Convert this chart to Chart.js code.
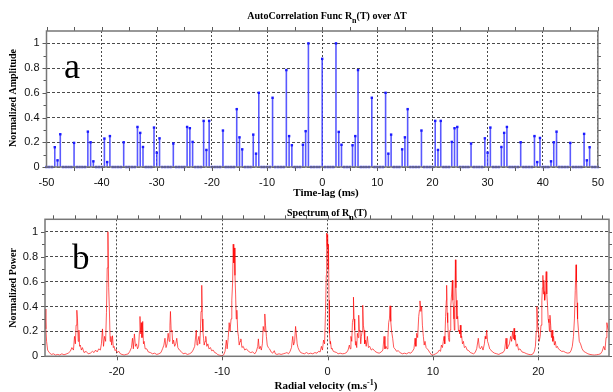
<!DOCTYPE html>
<html><head><meta charset="utf-8">
<script src="https://cdn.jsdelivr.net/npm/chart.js@4.4.0/dist/chart.umd.min.js"></script>
<style>
html,body{margin:0;padding:0;background:#fff;}
#wrap{position:relative;width:613px;height:392px;overflow:hidden;}
canvas{position:absolute;left:0;}
#ca{top:0;z-index:1;} #cb{top:196px;z-index:2;}
</style></head><body>
<div id="wrap"><canvas id="ca" width="613" height="205"></canvas><canvas id="cb" width="613" height="196"></canvas></div>
<script>
// ---------- Panel a: autocorrelation stems ----------
const lagMin = -50, lagMax = 50, lagStep = 0.5;
const stemLags = [-48.5,-48,-47.5,-45,-42.5,-42,-41.5,-39.5,-39,-38.5,-36,-33.5,-33,-32.5,-30.5,-30,-29.5,-27,
  -24.5,-24,-23.5,-21.5,-21,-20.5,-18,-15.5,-15,-14.5,-12.5,-12,-11.5,-9,-6.5,-6,-5.5,-3.5,-3,-2.5,0,
  2.5,3,3.5,5.5,6,6.5,9,11.5,12,12.5,14.5,15,15.5,18,20.5,21,21.5,23.5,24,24.5,27,29.5,30,30.5,32.5,33,33.5,
  36,38.5,39,39.5,41.5,42,42.5,45,47.5,48,48.5];
const stemAmps = [0.16,0.054,0.265,0.195,0.286,0.2,0.046,0.23,0.04,0.25,0.2,0.324,0.276,0.162,0.319,0.116,0.232,0.19,
  0.324,0.314,0.203,0.373,0.138,0.373,0.295,0.468,0.24,0.143,0.262,0.108,0.60,0.56,0.784,0.25,0.176,0.18,0.29,1.0,0.875,
  1.0,0.284,0.18,0.176,0.25,0.784,0.56,0.60,0.108,0.262,0.143,0.24,0.468,0.295,0.373,0.138,0.373,0.203,0.314,0.324,0.19,0.232,0.116,0.319,0.162,0.276,0.324,
  0.2,0.25,0.04,0.235,0.046,0.2,0.286,0.195,0.268,0.054,0.16];
const ampTicks = [0,0.2,0.4,0.6,0.8,1];
const lagTicks = [-50,-40,-30,-20,-10,0,10,20,30,40,50];

// ---------- Panel b: spectrum ----------
const specV = [-26.8,-26.72,-26.65,-26.55,-26.4,-26.2,-26.0,-25.8,-25.6,-25.4,-25.2,-25.0,-24.8,-24.6,-24.4,-24.25,-24.1,-24.0,-23.92,-23.85,-23.78,-23.72,-23.65,-23.58,-23.52,-23.45,-23.35,-23.25,-23.1,-22.9,-22.7,-22.5,-22.3,-22.15,-22.0,-21.85,-21.7,-21.55,-21.45,-21.35,-21.25,-21.15,-21.05,-20.97,-20.9,-20.83,-20.76,-20.7,-20.62,-20.55,-20.48,-20.4,-20.32,-20.25,-20.15,-20.05,-19.95,-19.8,-19.65,-19.5,-19.3,-19.1,-18.9,-18.75,-18.6,-18.5,-18.42,-18.32,-18.22,-18.12,-18.02,-17.92,-17.84,-17.79,-17.72,-17.66,-17.6,-17.53,-17.46,-17.4,-17.3,-17.15,-17.0,-16.8,-16.6,-16.4,-16.2,-16.0,-15.8,-15.65,-15.52,-15.42,-15.32,-15.22,-15.12,-15.02,-14.95,-14.9,-14.83,-14.76,-14.68,-14.6,-14.5,-14.4,-14.3,-14.2,-14.05,-13.9,-13.7,-13.5,-13.3,-13.1,-12.9,-12.75,-12.6,-12.45,-12.38,-12.3,-12.2,-12.12,-12.05,-12.0,-11.93,-11.88,-11.82,-11.76,-11.7,-11.62,-11.55,-11.45,-11.35,-11.25,-11.1,-11.0,-10.85,-10.7,-10.55,-10.4,-10.2,-10.0,-9.85,-9.72,-9.6,-9.52,-9.42,-9.33,-9.25,-9.15,-9.08,-9.0,-8.95,-8.89,-8.84,-8.78,-8.72,-8.66,-8.6,-8.52,-8.45,-8.38,-8.3,-8.22,-8.12,-8.0,-7.85,-7.7,-7.5,-7.3,-7.1,-6.9,-6.75,-6.62,-6.56,-6.48,-6.38,-6.28,-6.18,-6.1,-6.02,-5.95,-5.88,-5.8,-5.72,-5.62,-5.5,-5.35,-5.2,-5.05,-4.95,-4.8,-4.6,-4.4,-4.2,-4.0,-3.85,-3.7,-3.55,-3.42,-3.3,-3.22,-3.12,-3.03,-2.96,-2.88,-2.8,-2.7,-2.55,-2.4,-2.2,-2.0,-1.8,-1.6,-1.4,-1.2,-1.0,-0.85,-0.7,-0.58,-0.48,-0.38,-0.28,-0.19,-0.12,-0.08,-0.03,0.01,0.05,0.09,0.14,0.18,0.24,0.28,0.36,0.42,0.55,0.7,0.87,1.0,1.2,1.4,1.6,1.8,1.95,2.07,2.15,2.22,2.3,2.36,2.42,2.46,2.52,2.58,2.65,2.7,2.77,2.83,2.9,2.96,3.02,3.08,3.15,3.21,3.28,3.34,3.4,3.46,3.53,3.59,3.67,3.78,3.88,4.0,4.15,4.3,4.5,4.7,4.9,5.1,5.25,5.36,5.45,5.55,5.65,5.73,5.8,5.87,5.93,6.0,6.08,6.18,6.28,6.4,6.55,6.7,6.88,7.1,7.3,7.5,7.7,7.9,8.05,8.2,8.3,8.38,8.46,8.55,8.65,8.72,8.77,8.85,8.93,9.0,9.09,9.17,9.25,9.35,9.45,9.56,9.7,9.88,10.05,10.25,10.45,10.6,10.72,10.8,10.9,10.98,11.05,11.12,11.2,11.27,11.3,11.35,11.4,11.47,11.53,11.58,11.62,11.67,11.71,11.77,11.84,11.89,11.94,11.99,12.03,12.08,12.13,12.18,12.22,12.28,12.35,12.42,12.48,12.55,12.6,12.66,12.73,12.8,12.89,12.98,13.1,13.25,13.4,13.55,13.7,13.85,14.0,14.15,14.3,14.4,14.5,14.63,14.75,14.88,14.95,15.02,15.1,15.18,15.26,15.38,15.5,15.65,15.85,16.05,16.25,16.45,16.65,16.8,16.93,17.02,17.15,17.25,17.37,17.46,17.56,17.63,17.69,17.75,17.8,17.9,18.0,18.12,18.25,18.45,18.65,18.9,19.1,19.3,19.5,19.62,19.72,19.8,19.86,19.93,20.0,20.08,20.17,20.25,20.33,20.38,20.43,20.48,20.52,20.56,20.6,20.66,20.7,20.74,20.8,20.87,20.93,21.0,21.05,21.1,21.17,21.24,21.3,21.37,21.44,21.52,21.6,21.7,21.8,21.9,22.05,22.2,22.4,22.6,22.8,23.0,23.12,23.22,23.33,23.42,23.5,23.57,23.62,23.67,23.72,23.8,23.88,24.0,24.15,24.3,24.5,24.7,24.9,25.1,25.3,25.5,25.7,25.9,26.05,26.2,26.32,26.42,26.5,26.6,26.7];
const specP = [0.38,0.22,0.12,0.05,0.03,0.015,0.02,0.01,0.015,0.01,0.02,0.012,0.018,0.025,0.04,0.07,0.05,0.16,0.1,0.25,0.37,0.3,0.12,0.21,0.08,0.09,0.05,0.07,0.03,0.04,0.02,0.025,0.04,0.03,0.05,0.035,0.06,0.05,0.1,0.22,0.08,0.16,0.12,0.35,0.71,1.0,0.55,0.4,0.12,0.16,0.09,0.165,0.07,0.08,0.045,0.055,0.03,0.04,0.02,0.015,0.01,0.015,0.02,0.04,0.07,0.145,0.06,0.18,0.08,0.1,0.06,0.08,0.2,0.32,0.18,0.27,0.15,0.28,0.1,0.12,0.06,0.06,0.035,0.03,0.02,0.025,0.015,0.02,0.03,0.06,0.09,0.145,0.07,0.1,0.185,0.12,0.25,0.36,0.2,0.21,0.1,0.13,0.08,0.1,0.145,0.07,0.05,0.04,0.02,0.025,0.015,0.02,0.03,0.05,0.08,0.21,0.09,0.12,0.16,0.1,0.22,0.36,0.57,0.3,0.2,0.145,0.09,0.12,0.16,0.08,0.1,0.06,0.07,0.045,0.05,0.03,0.025,0.012,0.008,0.005,0.012,0.04,0.13,0.06,0.15,0.27,0.2,0.3,0.45,0.6,0.9,0.75,0.87,0.65,0.5,0.3,0.37,0.2,0.16,0.09,0.12,0.14,0.07,0.08,0.05,0.06,0.04,0.03,0.035,0.02,0.04,0.08,0.14,0.06,0.08,0.05,0.1,0.24,0.2,0.34,0.25,0.16,0.09,0.07,0.06,0.035,0.025,0.045,0.02,0.015,0.02,0.015,0.02,0.025,0.03,0.02,0.04,0.07,0.16,0.09,0.12,0.24,0.18,0.1,0.07,0.05,0.03,0.025,0.02,0.03,0.02,0.025,0.02,0.03,0.025,0.04,0.035,0.08,0.05,0.13,0.1,0.36,0.65,0.99,0.88,0.98,0.7,0.9,0.45,0.185,0.1,0.12,0.06,0.065,0.04,0.035,0.03,0.02,0.025,0.02,0.022,0.03,0.05,0.09,0.06,0.16,0.12,0.27,0.3,0.475,0.3,0.21,0.09,0.12,0.07,0.185,0.15,0.33,0.2,0.21,0.1,0.16,0.2,0.41,0.25,0.21,0.1,0.13,0.08,0.16,0.07,0.08,0.05,0.06,0.04,0.03,0.025,0.035,0.05,0.16,0.06,0.08,0.06,0.15,0.27,0.3,0.405,0.28,0.2,0.145,0.07,0.06,0.04,0.045,0.03,0.02,0.025,0.02,0.03,0.025,0.04,0.06,0.145,0.08,0.185,0.15,0.32,0.37,0.445,0.36,0.4,0.25,0.16,0.09,0.12,0.07,0.06,0.05,0.03,0.01,0.012,0.02,0.03,0.05,0.04,0.09,0.07,0.12,0.16,0.1,0.32,0.45,0.57,0.35,0.27,0.15,0.12,0.2,0.21,0.3,0.4,0.5,0.61,0.45,0.4,0.3,0.21,0.45,0.775,0.55,0.45,0.3,0.32,0.2,0.21,0.18,0.25,0.15,0.16,0.1,0.12,0.07,0.08,0.05,0.045,0.03,0.025,0.02,0.03,0.06,0.145,0.07,0.06,0.08,0.05,0.1,0.16,0.14,0.21,0.12,0.1,0.06,0.05,0.035,0.025,0.02,0.015,0.025,0.03,0.05,0.145,0.06,0.08,0.1,0.16,0.12,0.2,0.14,0.225,0.13,0.17,0.08,0.1,0.05,0.06,0.035,0.03,0.02,0.015,0.012,0.02,0.04,0.08,0.2,0.4,0.25,0.21,0.12,0.16,0.25,0.45,0.55,0.65,0.5,0.61,0.52,0.45,0.5,0.6,0.68,0.5,0.41,0.3,0.27,0.2,0.33,0.25,0.15,0.21,0.12,0.16,0.09,0.12,0.07,0.08,0.06,0.05,0.04,0.04,0.03,0.025,0.03,0.05,0.08,0.16,0.3,0.53,0.735,0.6,0.43,0.3,0.21,0.12,0.1,0.06,0.04,0.03,0.02,0.015,0.012,0.01,0.012,0.015,0.02,0.04,0.08,0.05,0.15,0.27,0.22,0.2];
const powTicks = [0,0.2,0.4,0.6,0.8,1];
const velTicks = [-20,-10,0,10,20];

// ---------- build datasets ----------
const stemSegs = [];
stemLags.forEach((x,i) => { stemSegs.push({x:x, y:0}, {x:x, y:stemAmps[i]}, {x:x, y:null}); });
const sampleData = [];
for (let k = 0; k <= (lagMax-lagMin)/lagStep; k++) {
  const x = lagMin + k*lagStep;
  const i = stemLags.indexOf(x);
  sampleData.push({x:x, y: i >= 0 ? stemAmps[i] : 0});
}
const specData = specV.map((v,i)=>({x:v, y:specP[i]}));

const SERIF = '"Liberation Serif", "Times New Roman", serif';
const SANS = '"Liberation Sans", Arial, sans-serif';

function richText(ctx, parts, cx, y, size) {
  let w = 0;
  const fonts = parts.map(p => p[1] === 0 ? `bold ${size}px ${SERIF}` : `bold ${Math.round(size*0.75)}px ${SERIF}`);
  parts.forEach((p,i)=>{ ctx.font = fonts[i]; w += ctx.measureText(p[0]).width; });
  let x = cx - w/2;
  ctx.textBaseline = 'alphabetic'; ctx.textAlign = 'left';
  parts.forEach((p,i)=>{
    ctx.font = fonts[i];
    const dy = p[1] === -1 ? size*0.35 : (p[1] === 1 ? -size*0.4 : 0);
    ctx.fillText(p[0], x, y + dy);
    x += ctx.measureText(p[0]).width;
  });
}

function decoPlugin(cfg) {
  return {
    id: 'deco',
    afterDraw(chart) {
      const ctx = chart.ctx, a = chart.chartArea, xs = chart.scales.x, ys = chart.scales.y;
      ctx.save();
      ctx.strokeStyle = '#5a5a5a'; ctx.lineWidth = 1;
      ctx.beginPath();
      for (let v = cfg.topStart; v <= cfg.topEnd + 1e-9; v += cfg.topStep) {
        const px = Math.round(xs.getPixelForValue(v)) + 0.5;
        ctx.moveTo(px, a.top); ctx.lineTo(px, a.top - 4);
      }
      cfg.bottomTicks.forEach(v => {
        const px = Math.round(xs.getPixelForValue(v)) + 0.5;
        ctx.moveTo(px, a.bottom); ctx.lineTo(px, a.bottom + 4);
      });
      for (let k = 0; k <= 10; k++) {
        const py = Math.round(ys.getPixelForValue(k/10)) + 0.5;
        const len = (k % 2 === 0) ? 4 : 3;
        ctx.moveTo(a.left, py); ctx.lineTo(a.left - len, py);
        ctx.moveTo(a.right, py); ctx.lineTo(a.right + 3, py);
      }
      ctx.stroke();
      ctx.strokeStyle = '#777'; ctx.lineWidth = 1.5;
      ctx.strokeRect(a.left, a.top, a.right - a.left, a.bottom - a.top);
      ctx.fillStyle = '#000';
      richText(ctx, cfg.title, cfg.titleX, cfg.titleY, cfg.titleSize);
      richText(ctx, cfg.xTitle, cfg.xTitleX, cfg.xTitleY, cfg.xTitleSize);
      ctx.save();
      ctx.translate(cfg.yTitleX, cfg.yTitleY);
      ctx.rotate(-Math.PI/2);
      richText(ctx, [[cfg.yTitle,0]], 0, 0, cfg.yTitleSize);
      ctx.restore();
      ctx.font = `${cfg.letterSize}px ${SERIF}`;
      ctx.textAlign = 'left'; ctx.textBaseline = 'alphabetic';
      ctx.fillText(cfg.letter, cfg.letterX, cfg.letterY);
      ctx.restore();
    }
  };
}

function axisY(ticks, width, max) {
  return {
    type: 'linear', min: 0, max: max,
    afterBuildTicks: s => { s.ticks = ticks.map(v => ({value: v})); },
    afterFit: s => { s.width = width; },
    grid: { color: '#4a4a4a', lineWidth: 1, drawTicks: false },
    border: { display: false, dash: [3, 2] },
    ticks: { padding: 7, color: '#111', font: { family: SANS, size: 11 }, callback: v => String(Math.round(v*10)/10) }
  };
}
function axisX(ticks, min, max, height, pad) {
  return {
    type: 'linear', min: min, max: max, offset: false,
    afterBuildTicks: s => { s.ticks = ticks.map(v => ({value: v})); },
    afterFit: s => { s.height = height; },
    grid: { color: '#4a4a4a', lineWidth: 1, drawTicks: false, offset: false },
    border: { display: false, dash: [2, 2] },
    ticks: { padding: pad, color: '#111', maxRotation: 0, autoSkip: false, font: { family: SANS, size: 11 }, callback: v => String(v) }
  };
}

Chart.defaults.devicePixelRatio = 1;

new Chart(document.getElementById('ca'), {
  type: 'scatter',
  data: { datasets: [
    { data: sampleData, showLine: false, pointStyle: 'rect', pointRadius: 1.7,
      pointBackgroundColor: '#1a1aff', pointBorderColor: '#1a1aff', pointBorderWidth: 0, clip: false, order: 1 },
    { data: stemSegs, showLine: true, spanGaps: false, borderColor: 'rgba(60,60,255,0.85)', borderWidth: 1.6,
      pointRadius: 0, tension: 0, fill: false, order: 2 }
  ]},
  options: {
    responsive: false, animation: false, devicePixelRatio: 1,
    layout: { padding: { left: 0, right: 4.5, top: 31, bottom: 0 } },
    plugins: { legend: { display: false }, tooltip: { enabled: false } },
    scales: { x: axisX(lagTicks, lagMin, lagMax, 38, 9), y: axisY(ampTicks, 46.5, 1.1) }
  },
  plugins: [decoPlugin({
    topStart: -50, topEnd: 50, topStep: 5, bottomTicks: [-45,-40,-35,-30,-25,-20,-15,-10,-5,0,5,10,15,20,25,30,35,40,45],
    title: [['AutoCorrelation Func R',0],['n',-1],['(T) over ΔT',0]], titleX: 327, titleY: 19, titleSize: 10,
    xTitle: [['Time-lag (ms)',0]], xTitleX: 326, xTitleY: 196, xTitleSize: 11,
    yTitle: 'Normalized Amplitude', yTitleX: 16, yTitleY: 98, yTitleSize: 10,
    letter: 'a', letterX: 64, letterY: 78, letterSize: 36
  })]
});

new Chart(document.getElementById('cb'), {
  type: 'scatter',
  data: { datasets: [
    { data: specData, showLine: true, borderColor: 'rgba(255,0,0,0.65)', borderWidth: 1, pointRadius: 0, tension: 0, fill: false }
  ]},
  options: {
    responsive: false, animation: false, devicePixelRatio: 1,
    layout: { padding: { left: 0, right: 4, top: 23.3, bottom: 0 } },
    plugins: { legend: { display: false }, tooltip: { enabled: false } },
    scales: { x: axisX(velTicks, -26.8, 26.7, 35.7, 9), y: axisY(powTicks, 45, 1.1) }
  },
  plugins: [decoPlugin({
    topStart: -26, topEnd: 26, topStep: 2, bottomTicks: [-20,-10,0,10,20],
    title: [['Spectrum of R',0],['n',-1],['(T)',0]], titleX: 327, titleY: 20, titleSize: 10,
    xTitle: [['Radial velocity (m.s',0],['-1',1],[')',0]], xTitleX: 326, xTitleY: 193, xTitleSize: 11,
    yTitle: 'Normalized Power', yTitleX: 16, yTitleY: 92, yTitleSize: 10,
    letter: 'b', letterX: 72, letterY: 73, letterSize: 35
  })]
});
</script>
</body></html>
